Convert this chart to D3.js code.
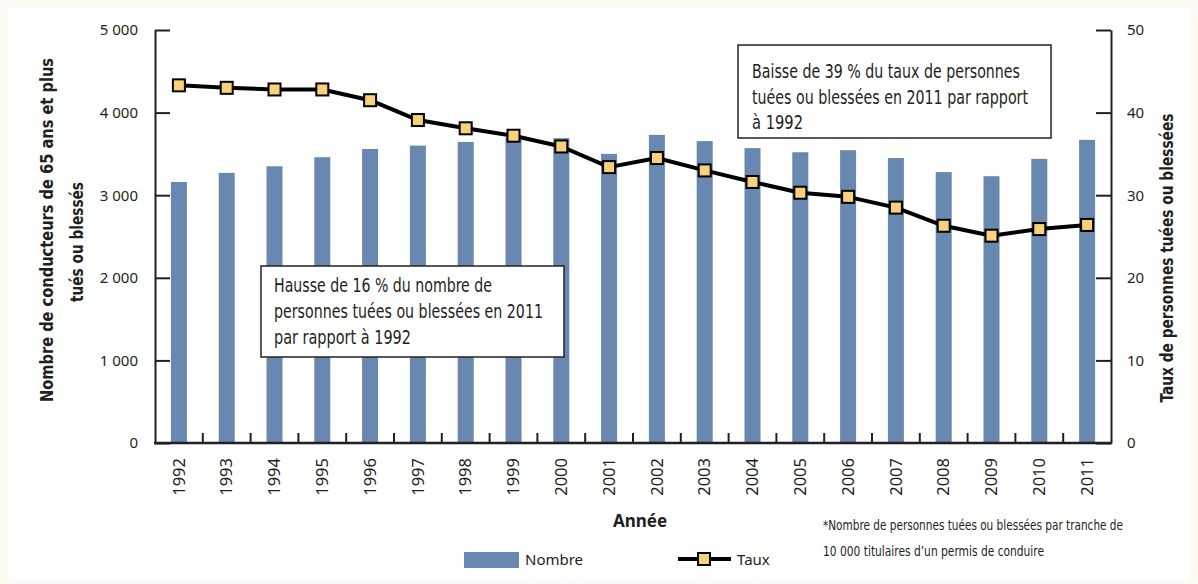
<!DOCTYPE html>
<html>
<head>
<meta charset="utf-8">
<script src="https://cdn.jsdelivr.net/npm/d3@7"></script>
<style>
  body { margin: 0; background: #fdf9f3; }
  svg { display: block; }
</style>
</head>
<body>
<svg id="viz"></svg>
<script>
// chart data
var years = ["1992","1993","1994","1995","1996","1997","1998","1999","2000","2001",
             "2002","2003","2004","2005","2006","2007","2008","2009","2010","2011"];
// nombre de conducteurs de 65 ans et plus tués ou blessés
var nombre = [3160, 3270, 3350, 3460, 3560, 3600, 3645, 3700, 3690, 3500,
              3730, 3655, 3570, 3520, 3545, 3450, 3280, 3230, 3440, 3670];
// taux de personnes tuées ou blessées
var taux = [43.3, 43.0, 42.8, 42.8, 41.5, 39.1, 38.1, 37.2, 35.9, 33.4,
            34.5, 33.0, 31.6, 30.3, 29.8, 28.5, 26.3, 25.1, 25.9, 26.4];
var leftTicks = [0, 1000, 2000, 3000, 4000, 5000];
var rightTicks = [0, 10, 20, 30, 40, 50];

var width = 1198, height = 584;
// plot area edges (note: "top" is reserved on window, so use other names)
var plotLeft = 155, plotRight = 1111, plotTop = 30, plotBottom = 443;

var barColor = "#6888b0",
    markerColor = "#f9d17a",
    ink = "#231f20";
var plainFont = "'Noto Sans', 'Open Sans', sans-serif";
var narrowFont = "'Liberation Sans Narrow', 'DejaVu Sans Condensed', 'Liberation Sans', sans-serif";

var fr = d3.formatLocale({decimal: ",", thousands: "\u00a0", grouping: [3], currency: ["", " €"]});

var svg = d3.select("#viz").attr("width", width).attr("height", height);

// page background with white panel
svg.append("rect").attr("width", width).attr("height", height).attr("fill", "#fdf9f3");
svg.append("rect").attr("x", 8).attr("y", 8).attr("width", width - 16).attr("height", height - 12)
    .attr("fill", "#fff");

// scales
var x = d3.scaleBand().domain(years).range([plotLeft, plotRight]).paddingInner(0.665).paddingOuter(0.3325);
var yLeft = d3.scaleLinear().domain([0, 5000]).range([plotBottom, plotTop]);
var yRight = d3.scaleLinear().domain([0, 50]).range([plotBottom, plotTop]);
var step = x.step();

// bars
svg.append("g").selectAll("rect")
    .data(nombre)
    .enter()
    .append("rect")
    .attr("x", function(d, i) { return x(years[i]); })
    .attr("y", function(d) { return yLeft(d); })
    .attr("width", x.bandwidth())
    .attr("height", function(d) { return yLeft(0) - yLeft(d); })
    .attr("fill", barColor);

// left axis
var axisL = svg.append("g")
    .attr("transform", "translate(" + plotLeft + ",0)")
    .call(d3.axisLeft(yLeft).tickValues(leftTicks).tickFormat(fr.format(",")).tickSize(-15).tickSizeOuter(0).tickPadding(17));
// right axis
var axisR = svg.append("g")
    .attr("transform", "translate(" + plotRight + ",0)")
    .call(d3.axisRight(yRight).tickValues(rightTicks).tickFormat(d3.format("d")).tickSize(-15).tickSizeOuter(0).tickPadding(16));

[axisL, axisR].forEach(function(a) {
    a.select(".domain").attr("stroke", ink).attr("stroke-width", 2);
    a.selectAll(".tick line").attr("stroke", ink).attr("stroke-width", 2);
    a.selectAll(".tick text").attr("fill", ink).style("font-family", plainFont).style("font-size", "15px");
});

// bottom axis line and category ticks
svg.append("line")
    .attr("x1", plotLeft - 1).attr("x2", plotRight + 1)
    .attr("y1", plotBottom).attr("y2", plotBottom)
    .attr("stroke", ink).attr("stroke-width", 2.5);
svg.append("g").selectAll("line")
    .data(years.slice(1))
    .enter()
    .append("line")
    .attr("x1", function(d) { return x(d) + x.bandwidth() / 2 - step / 2; })
    .attr("x2", function(d) { return x(d) + x.bandwidth() / 2 - step / 2; })
    .attr("y1", plotBottom).attr("y2", plotBottom - 10)
    .attr("stroke", ink).attr("stroke-width", 2);

// year labels (rotated)
svg.append("g").selectAll("text")
    .data(years)
    .enter()
    .append("text")
    .attr("transform", function(d) { return "translate(" + (x(d) + x.bandwidth() / 2) + ",458) rotate(-90)"; })
    .attr("dy", "0.35em")
    .attr("text-anchor", "end")
    .style("font-family", plainFont)
    .style("font-size", "16.5px")
    .attr("fill", ink)
    .text(function(d) { return d; });

// taux line
var line = d3.line()
    .x(function(d, i) { return x(years[i]) + x.bandwidth() / 2; })
    .y(function(d) { return yRight(d); });
svg.append("path")
    .datum(taux)
    .attr("d", line)
    .attr("fill", "none")
    .attr("stroke", "#000")
    .attr("stroke-width", 4)
    .attr("stroke-linejoin", "round");

var ms = 12;
svg.append("g").selectAll("rect")
    .data(taux)
    .enter()
    .append("rect")
    .attr("x", function(d, i) { return x(years[i]) + x.bandwidth() / 2 - ms / 2; })
    .attr("y", function(d) { return yRight(d) - ms / 2; })
    .attr("width", ms).attr("height", ms)
    .attr("fill", markerColor)
    .attr("stroke", "#000")
    .attr("stroke-width", 2);

// helper for condensed text with a fixed length
function narrowText(g, tx, ty, str, len, size, weight, rotate) {
    var t = g.append("text")
        .attr("transform", "translate(" + tx + "," + ty + ")" + (rotate ? " rotate(-90)" : ""))
        .style("font-family", narrowFont)
        .style("font-size", size + "px")
        .style("font-weight", weight || "normal")
        .attr("fill", ink)
        .text(str);
    if (len) t.attr("textLength", len).attr("lengthAdjust", "spacingAndGlyphs");
    if (rotate) t.attr("text-anchor", "middle").attr("dy", "0.35em");
    return t;
}

// axis titles
narrowText(svg, 47, 230, "Nombre de conducteurs de 65 ans et plus", 344, 18, "bold", true);
narrowText(svg, 77, 242, "tués ou blessés", 120, 18, "bold", true);
narrowText(svg, 1167, 258, "Taux de personnes tuées ou blessées", 289, 18, "bold", true);

svg.append("text")
    .attr("x", 640).attr("y", 527)
    .attr("text-anchor", "middle")
    .style("font-family", plainFont)
    .style("font-size", "17px")
    .style("font-weight", "bold")
    .attr("fill", ink)
    .text("Année");

// annotation boxes
var boxes = [
    {x: 261, y: 266, w: 303, h: 91, tx: 274, lines: [
        ["Hausse de 16 % du nombre de", 218, 292],
        ["personnes tuées ou blessées en 2011", 269, 318],
        ["par rapport à 1992", 137, 344]]},
    {x: 738, y: 45, w: 313, h: 93, tx: 752, lines: [
        ["Baisse de 39 % du taux de personnes", 268, 78],
        ["tuées ou blessées en 2011 par rapport", 276, 104],
        ["à 1992", 51, 129]]}
];
boxes.forEach(function(b) {
    svg.append("rect")
        .attr("x", b.x).attr("y", b.y).attr("width", b.w).attr("height", b.h)
        .attr("fill", "#fff").attr("stroke", "#222").attr("stroke-width", 1.5);
    b.lines.forEach(function(l) {
        narrowText(svg, b.tx, l[2], l[0], l[1], 19, "normal", false);
    });
});

// footnote
narrowText(svg, 823, 530, "*Nombre de personnes tuées ou blessées par tranche de", 300, 13.5, "normal", false);
narrowText(svg, 823, 556, "10 000 titulaires d\u2019un permis de conduire", 221, 13.5, "normal", false);

// legend
var legend = svg.append("g");
legend.append("rect")
    .attr("x", 464).attr("y", 552).attr("width", 55).attr("height", 16)
    .attr("fill", barColor);
legend.append("text")
    .attr("x", 525).attr("y", 560).attr("dy", "0.35em")
    .style("font-family", plainFont).style("font-size", "15px")
    .attr("fill", ink)
    .text("Nombre");
legend.append("line")
    .attr("x1", 678).attr("x2", 731).attr("y1", 559).attr("y2", 559)
    .attr("stroke", "#000").attr("stroke-width", 4);
legend.append("rect")
    .attr("x", 704 - ms / 2).attr("y", 559 - ms / 2).attr("width", ms).attr("height", ms)
    .attr("fill", markerColor).attr("stroke", "#000").attr("stroke-width", 2);
legend.append("text")
    .attr("x", 737).attr("y", 560).attr("dy", "0.35em")
    .style("font-family", plainFont).style("font-size", "15px")
    .attr("fill", ink)
    .text("Taux");
</script>
</body>
</html>
